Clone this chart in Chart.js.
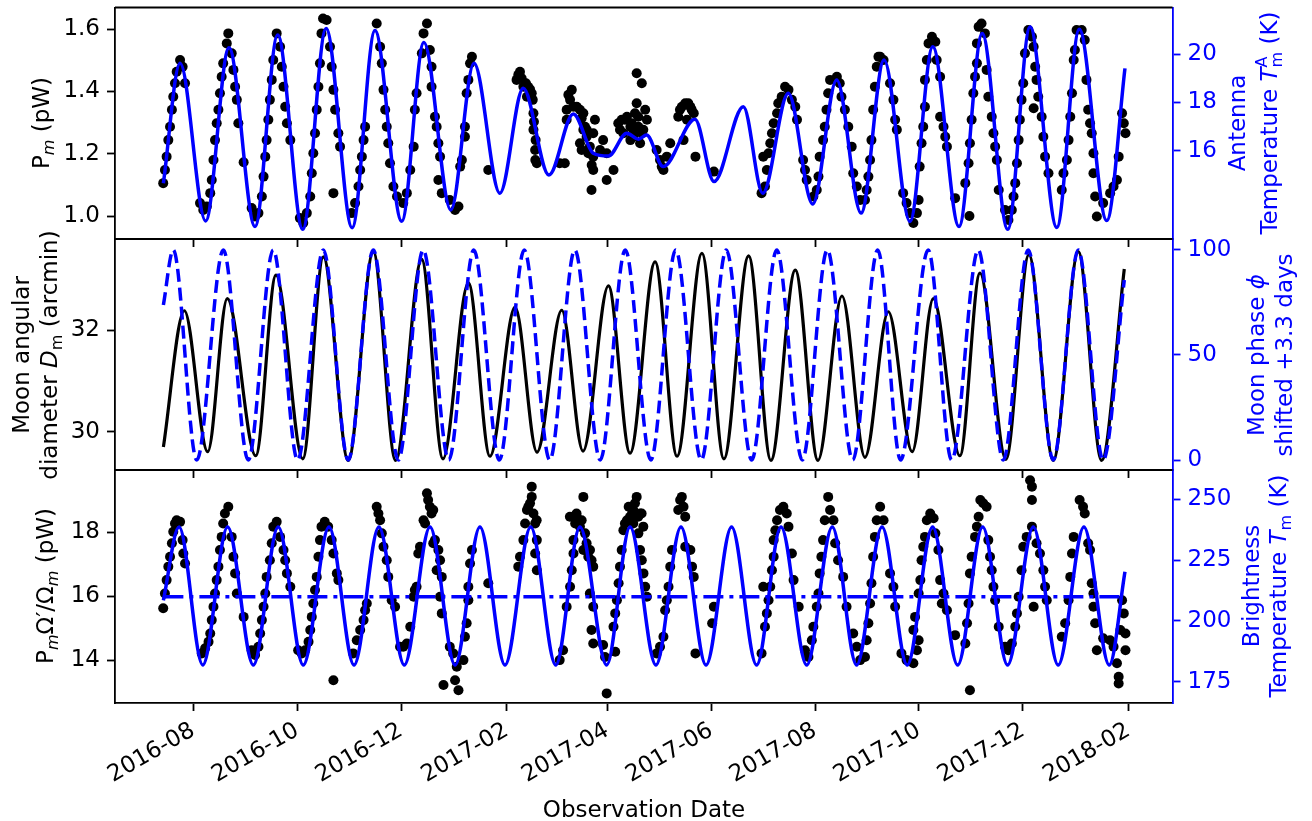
<!DOCTYPE html>
<html>
<head>
<meta charset="utf-8">
<script src="https://cdn.jsdelivr.net/npm/chart.js@4.4.0/dist/chart.umd.min.js"></script>
<style>
  body { margin: 0; background: #fff; }
  #wrap { position: relative; width: 1312px; height: 821px; }
  #wrap canvas { position: absolute; left: 0; top: 0; }
</style>
</head>
<body>
<div id="wrap">
  <canvas id="c1" width="1312" height="821"></canvas>
  <canvas id="c2" width="1312" height="821"></canvas>
  <canvas id="c3" width="1312" height="821"></canvas>
</div>
<script>
// x values are days since 2016-08-01
const tickDays = [0, 61, 122, 184, 243, 304, 365, 426, 487, 549];
const tickLabels = ["2016-08", "2016-10", "2016-12", "2017-02", "2017-04", "2017-06", "2017-08", "2017-10", "2017-12", "2018-02"];

// panel 1 : measured power P_m (pW)
const obsDay1 = [
  -17.6, -16.6, -15.6, -14.6, -13.6, -12.5, -11.7, -10.7, -9.7, -7.7, -6.2, -4.8,
  4.0, 5.9, 8.0, 10.0, 10.9, 11.9, 12.8, 13.8, 14.8, 15.7, 16.7, 17.6, 19.7, 20.6, 22.6, 23.6, 24.6, 25.6, 26.5, 29.6,
  34.3, 36.3, 38.3, 40.3, 41.3, 42.3, 43.1, 44.1, 45.0, 46.1, 47.0, 49.0, 51.0, 52.0, 53.0, 54.0, 55.0, 57.0,
  62.6, 64.6, 66.7, 68.7, 69.6, 70.5, 71.5, 72.5, 73.5, 74.4, 75.3, 76.2, 78.3, 80.3, 81.3, 82.3, 83.3, 85.2, 86.2, 82.3,
  93.0, 95.0, 97.0, 98.0, 99.0, 100.0, 100.9, 107.7, 109.7, 110.7, 111.7, 112.7, 113.6, 114.5, 115.5, 117.5, 119.6,
  123.3, 125.4, 127.4, 129.4, 130.1, 131.1, 134.2, 135.2, 137.2, 138.9, 139.9, 139.9, 141.9, 142.9, 143.9, 144.9, 143.9, 145.9,
  150.6, 153.7, 155.7, 156.7, 157.7, 159.5, 159.5, 160.5, 161.5, 162.5, 163.6, 173.2,
  189.8, 191.8, 193.8, 195.9, 196.6, 198.7, 199.7, 199.7, 200.7, 201.7, 215.1, 218.1,
  222.2, 221.2, 223.2, 219.2, 227.0, 229.0, 219.2, 230.0, 231.0, 227.0, 228.0, 235.8, 234.8, 232.8, 234.8, 234.8, 233.8, 240.6, 242.7, 246.7, 242.7,
  251.5, 254.6, 256.6, 258.3, 259.3, 260.3, 260.3, 263.3, 265.3, 266.3, 261.3, 263.3, 256.6, 262.3, 250.5, 252.5,
  272.0, 274.0, 275.0, 276.0, 278.0, 280.0, 284.7, 286.8, 288.8, 291.8, 293.8, 287.8, 294.8, 289.8, 305.6,
  333.6, 334.6, 335.6, 336.7, 337.7, 338.7, 339.7, 340.7, 342.7, 343.4, 345.4, 347.4, 349.4, 351.4, 353.4, 354.4, 358.0, 359.1, 360.1,
  364.0, 366.0, 367.0, 367.7, 369.7, 370.7, 371.7, 372.7, 373.8, 377.8, 379.5, 380.5, 382.5, 384.5, 386.5,
  387.4, 389.5, 391.5, 394.3, 395.3, 396.3, 397.3, 398.1, 399.1, 400.1, 401.2, 402.2, 403.2, 405.2, 409.0, 411.0, 412.0, 413.0,
  416.7, 418.7, 420.7, 422.7, 424.8, 425.8, 426.4, 427.5, 428.5, 429.5, 429.5, 430.6, 431.6, 433.6, 435.6, 436.4, 438.4, 438.4, 440.4, 441.4, 442.4,
  447.2, 455.6, 453.2, 455.1, 455.9, 456.9, 457.9, 458.9, 460.0, 460.0, 461.0, 462.7, 464.7, 465.7, 466.7, 468.7, 469.7, 470.7, 471.7, 472.8,
  476.5, 478.5, 480.5, 481.5, 482.5, 483.5, 484.5, 485.2, 486.2, 487.2, 488.2, 490.2, 492.3, 493.3, 494.2, 495.0, 496.0, 493.3, 498.0, 499.0, 500.0, 502.0,
  509.8, 510.8, 512.8, 513.8, 514.8, 515.8, 516.8, 517.5, 518.5, 521.5, 523.3, 524.3, 525.3, 526.4, 527.4, 528.4, 528.4, 529.4, 530.4,
  534.1, 538.2, 540.2, 542.2, 543.2, 545.2, 546.2, 547.2,
  190.8, 192.8, 195.3, 197.7, 199.3, 200.0, 201.0, 200.8, 220.2, 225.1, 228.0, 230.9, 229.0, 231.9, 233.9, 238.8,
  249.5, 253.4, 257.4, 261.2, 264.2, 258.3, 285.7, 290.6, 292.6
];
const obsP1 = [
  1.106, 1.148, 1.191, 1.244, 1.287, 1.341, 1.383, 1.426, 1.463, 1.501, 1.479, 1.426,
  1.042, 1.020, 1.031, 1.074, 1.116, 1.180, 1.244, 1.298, 1.341, 1.394, 1.447, 1.490, 1.554, 1.586, 1.522, 1.469, 1.415, 1.373, 1.298, 1.173,
  1.026, 0.999, 1.010, 1.063, 1.127, 1.191, 1.244, 1.309, 1.373, 1.437, 1.501, 1.586, 1.543, 1.479, 1.415, 1.351, 1.298, 1.244,
  0.994, 0.978, 1.010, 1.063, 1.138, 1.202, 1.266, 1.341, 1.415, 1.490, 1.586, 1.634, 1.629, 1.543, 1.479, 1.405, 1.341, 1.266, 1.223, 1.074,
  1.010, 1.042, 1.095, 1.148, 1.191, 1.244, 1.287, 1.618, 1.543, 1.490, 1.405, 1.341, 1.287, 1.234, 1.170, 1.095, 1.063,
  1.042, 1.074, 1.148, 1.223, 1.341, 1.394, 1.522, 1.586, 1.618, 1.533, 1.479, 1.415, 1.319, 1.287, 1.234, 1.191, 1.116, 1.074,
  1.052, 1.020, 1.031, 1.159, 1.180, 1.255, 1.287, 1.394, 1.437, 1.490, 1.511, 1.148,
  1.437, 1.463, 1.415, 1.383, 1.415, 1.394, 1.330, 1.277, 1.212, 1.170, 1.170, 1.170,
  1.405, 1.373, 1.351, 1.341, 1.341, 1.330, 1.309, 1.287, 1.277, 1.234, 1.212, 1.309, 1.266, 1.223, 1.191, 1.148, 1.084, 1.244, 1.202, 1.148, 1.116,
  1.309, 1.319, 1.287, 1.266, 1.330, 1.362, 1.458, 1.426, 1.341, 1.309, 1.287, 1.266, 1.244, 1.234, 1.277, 1.266,
  1.212, 1.180, 1.159, 1.148, 1.191, 1.234, 1.319, 1.351, 1.362, 1.351, 1.330, 1.244, 1.191, 1.309, 1.143,
  1.074, 1.191, 1.095, 1.148, 1.202, 1.234, 1.266, 1.298, 1.330, 1.362, 1.383, 1.415, 1.405, 1.373, 1.351, 1.309, 1.180, 1.148, 1.116,
  1.063, 1.084, 1.127, 1.191, 1.244, 1.287, 1.341, 1.394, 1.437, 1.447, 1.426, 1.383, 1.341, 1.287, 1.223,
  1.138, 1.095, 1.052, 1.052, 1.084, 1.127, 1.180, 1.244, 1.341, 1.415, 1.479, 1.511, 1.511, 1.501, 1.426, 1.373, 1.309, 1.277,
  1.074, 1.042, 1.010, 0.978, 1.010, 1.052, 1.159, 1.234, 1.287, 1.351, 1.437, 1.501, 1.554, 1.575, 1.559, 1.501, 1.447, 1.319, 1.287, 1.255, 1.223,
  1.058, 1.001, 1.106, 1.170, 1.234, 1.309, 1.394, 1.447, 1.490, 1.554, 1.607, 1.618, 1.586, 1.469, 1.383, 1.319, 1.266, 1.223, 1.180, 1.084,
  1.020, 0.988, 1.020, 1.063, 1.106, 1.170, 1.244, 1.309, 1.373, 1.426, 1.522, 1.597, 1.575, 1.543, 1.479, 1.437, 1.383, 1.346, 1.319, 1.255, 1.191, 1.138,
  1.084, 1.138, 1.180, 1.244, 1.319, 1.394, 1.501, 1.533, 1.597, 1.597, 1.565, 1.437, 1.341, 1.298, 1.266, 1.202, 1.138, 1.063, 0.999,
  1.042, 1.074, 1.095, 1.116, 1.191, 1.330, 1.298, 1.266,
  1.453, 1.442, 1.426, 1.407, 1.373, 1.303, 1.244, 1.180, 1.389, 1.351, 1.314, 1.255, 1.277, 1.202, 1.164, 1.212,
  1.298, 1.309, 1.298, 1.319, 1.277, 1.255, 1.341, 1.362, 1.341
];
// fitted curve, read at its turning points
const fitDay1 = [-17.5, -7.7, 7.3, 21.0, 36.3, 49.6, 64.3, 78.0, 93.3, 106.7, 122.4, 135.4, 151.2, 164.8, 180.0, 193.7, 208.8, 223.1,
  234.8, 243.7, 254.5, 261.3, 266.1, 275.9, 294.5, 305.7, 322.9, 334.3, 349.3, 363.6, 377.7, 392.0, 405.5, 420.7, 434.1, 449.5,
  463.1, 478.1, 491.2, 506.9, 520.1, 536.2, 546.9];
const fitP1 = [1.106, 1.490, 0.985, 1.540, 0.967, 1.581, 0.958, 1.602, 0.963, 1.595, 0.984, 1.557, 1.020, 1.490, 1.074, 1.410, 1.132, 1.328,
  1.202, 1.193, 1.266, 1.247, 1.260, 1.159, 1.311, 1.111, 1.351, 1.074, 1.394, 1.039, 1.437, 1.010, 1.501, 0.983, 1.543, 0.967,
  1.586, 0.958, 1.607, 0.964, 1.599, 0.986, 1.474];
const pTicks = [1.0, 1.2, 1.4, 1.6];
const antTempTicks = [16, 18, 20];

// panel 2 : moon angular diameter (arcmin) and moon phase (%)
const diamDay = [-17.5, -5.2, 8.5, 20.0, 36.7, 48.6, 64.3, 76.4, 91.0, 105.7, 118.8, 134.1, 146.6, 161.5, 174.2, 188.9, 201.8,
  216.3, 228.8, 243.7, 256.4, 271.1, 284.0, 298.6, 311.5, 326.0, 339.1, 353.4, 366.7, 380.8, 394.3, 408.0, 422.0, 434.4,
  450.0, 461.8, 477.0, 490.5, 504.8, 519.5, 533.2, 546.5];
const diamVal = [29.70, 32.38, 29.61, 32.62, 29.53, 33.08, 29.47, 33.44, 29.44, 33.54, 29.44, 33.39, 29.47, 32.93, 29.52, 32.45, 29.60,
  32.39, 29.62, 32.87, 29.58, 33.34, 29.52, 33.51, 29.47, 33.46, 29.44, 33.18, 29.44, 32.67, 29.50, 32.36, 29.61, 32.62,
  29.53, 33.12, 29.46, 33.48, 29.44, 33.54, 29.44, 33.20];
const phaseDay = [-17.5, -11.7, 2.1, 17.7, 32.3, 47.0, 61.3, 76.4, 91.0, 105.7, 120.4, 135.0, 150.0, 164.7, 179.7, 194.3, 209.3,
  224.0, 238.9, 253.6, 268.6, 283.2, 298.2, 312.9, 327.8, 342.5, 357.5, 372.2, 387.1, 401.8, 415.2, 431.4, 445.2, 460.8,
  475.5, 490.1, 504.8, 519.5, 534.1, 546.5];
const phaseVal = [73.8, 100, 0, 100, 0, 100, 0, 100, 0, 100, 0, 100, 0, 100, 0, 100, 0, 100, 0, 100, 0, 100, 0, 100, 0, 100, 0,
  100, 0, 100, 0, 100, 0, 100, 0, 100, 0, 100, 0, 85.7];
const diamTicks = [30, 32];
const phaseTicks = [0, 50, 100];

// panel 3 : power scaled to a fixed solid angle (pW)
const obsDay3 = [
  -17.6, -16.6, -15.6, -14.6, -13.6, -12.5, -11.7, -10.7, -9.7, -7.7, -6.2, -5.8, -4.8,
  5.0, 7.0, 9.0, 10.0, 10.9, 11.9, 12.8, 13.8, 14.8, 15.7, 16.7, 17.6, 18.6, 20.6, 22.6, 23.6, 24.6, 25.6, 29.6,
  34.3, 36.3, 38.3, 39.3, 40.3, 41.3, 42.3, 43.1, 45.0, 46.1, 47.0, 49.0, 51.0, 53.0, 54.0, 55.0, 57.0,
  61.6, 63.7, 65.7, 67.7, 68.7, 69.6, 70.5, 71.5, 72.5, 73.5, 74.4, 75.3, 77.2, 79.2, 81.3, 82.3, 84.3, 85.2, 82.3,
  93.9, 96.0, 98.0, 100.0, 100.9, 101.9, 107.7, 108.7, 109.7, 110.7, 111.7, 113.6, 114.5, 116.5, 118.5,
  121.4, 123.3, 125.4, 127.4, 129.4, 130.1, 131.1, 132.1, 133.1, 135.2, 136.1, 137.2, 137.9, 138.9, 139.9, 140.9, 140.9, 141.9, 142.9, 143.9, 144.9, 145.9, 144.9, 145.9,
  146.9, 150.6, 152.6, 154.7, 153.7, 155.7, 158.6, 159.5, 160.5, 161.5, 161.5, 162.5, 163.6, 173.2,
  190.8, 191.8, 193.8, 194.8, 195.9, 197.7, 198.7, 199.7, 200.7, 201.7, 200.7, 201.7,
  215.1, 217.1, 219.2, 221.2, 222.2, 223.2, 223.2, 224.2, 225.0, 229.0, 228.0, 230.0, 229.0, 231.9, 233.8, 234.8, 232.8, 234.8, 233.8, 234.8, 240.6, 241.7, 242.7, 247.7,
  246.7, 247.7, 248.7, 249.7, 250.5, 251.5, 252.5, 254.6, 255.6, 257.6, 260.3, 262.3, 258.3, 261.3, 262.3, 263.3, 264.3, 265.3, 266.3,
  272.0, 274.0, 276.0, 277.0, 278.0, 279.0, 280.0, 281.0, 284.7, 285.8, 286.8, 287.8, 288.8, 288.8, 291.8, 292.8, 293.8, 294.8, 305.6, 304.6,
  333.6, 334.6, 335.6, 336.7, 337.7, 338.7, 339.7, 340.7, 340.7, 341.7, 342.7, 344.4, 346.4, 348.4, 349.4, 351.4, 352.4, 355.4,
  359.1, 361.1, 363.1, 364.0, 366.0, 367.0, 367.7, 368.7, 369.7, 370.7, 372.7, 373.8, 375.8, 376.8, 378.5, 381.5, 383.5,
  387.4, 389.5, 391.5, 394.3, 395.3, 396.3, 397.3, 398.1, 399.1, 400.1, 401.2, 403.2, 405.2, 409.0, 411.0, 412.0,
  415.7, 418.7, 422.7, 424.8, 425.8, 422.7, 423.7, 425.8, 426.8, 427.5, 428.5, 429.5, 430.6, 432.6, 434.6, 435.6, 437.4, 438.4, 440.4, 439.4, 442.4,
  447.2, 453.2, 454.2, 455.9, 455.1, 455.9, 456.9, 458.9, 460.0, 461.0, 462.0, 463.7, 465.7, 466.7, 467.7, 468.7, 469.7, 470.7, 472.8,
  476.5, 478.5, 480.5, 482.5, 483.5, 484.5, 486.2, 487.2, 489.2, 491.2, 492.3, 492.3, 492.3, 493.3, 495.0, 497.0, 499.0, 500.0, 501.0,
  509.8, 511.8, 513.8, 514.8, 515.8, 516.8, 520.3, 522.3, 523.3, 525.3, 526.4, 527.4, 528.4, 528.4, 529.4, 530.4,
  534.1, 538.2, 540.2, 542.2, 543.2, 543.2, 544.2, 545.2, 546.2, 547.2, 547.2,
  253.4, 256.4, 258.3, 261.2, 263.2, 259.3, 264.2, 196.7, 198.7, 201.6, 221.1, 225.1, 227.0, 230.9, 232.9
];
const obsP3 = [
  15.63, 16.09, 16.51, 16.93, 17.24, 17.66, 18.02, 18.28, 18.38, 18.33, 17.76, 17.34, 17.03,
  14.22, 14.38, 14.58, 14.84, 15.26, 15.68, 16.09, 16.51, 16.93, 17.45, 17.86, 18.28, 18.59, 18.80, 17.86, 17.24, 16.72, 16.09, 15.36,
  14.32, 14.17, 14.43, 14.84, 15.26, 15.68, 16.09, 16.61, 17.13, 17.66, 18.18, 18.33, 17.86, 17.45, 17.13, 16.72, 16.30,
  14.32, 14.22, 14.32, 14.58, 14.95, 15.36, 15.78, 16.20, 16.61, 17.24, 17.76, 18.18, 18.33, 18.18, 17.76, 17.34, 16.72, 16.51, 13.38,
  14.22, 14.63, 14.95, 15.26, 15.57, 15.78, 18.80, 18.59, 18.38, 17.97, 17.55, 17.13, 16.61, 15.88, 15.68,
  14.43, 14.43, 14.53, 15.05, 15.99, 16.20, 16.30, 17.34, 17.55, 18.38, 18.28, 19.22, 19.01, 18.80, 18.59, 18.70, 17.66, 17.76, 16.82, 17.45, 17.13, 16.61, 15.99, 15.47,
  13.23, 14.43, 14.22, 13.80, 13.38, 13.07, 14.01, 14.74, 15.16, 15.88, 16.30, 17.03, 17.45, 16.41,
  16.93, 17.24, 17.76, 18.28, 18.70, 18.91, 19.43, 18.59, 18.28, 17.76, 17.34, 16.82,
  14.01, 14.32, 15.68, 16.30, 16.82, 17.34, 17.76, 18.28, 18.59, 19.11, 18.38, 17.97, 17.45, 17.24, 17.13, 16.93, 16.09, 15.68, 14.95, 14.53, 14.48, 14.11, 12.97, 14.27,
  15.05, 15.47, 15.88, 16.41, 16.93, 17.45, 18.07, 18.38, 18.80, 18.59, 19.11, 18.59, 18.28, 17.97, 17.45, 17.13, 16.72, 16.30, 15.99,
  14.22, 14.43, 14.74, 15.57, 15.88, 16.30, 16.93, 17.45, 18.70, 19.01, 19.11, 18.80, 18.49, 17.55, 17.45, 16.93, 16.61, 14.22, 15.68, 15.16,
  14.22, 16.30, 15.05, 15.47, 15.88, 16.30, 16.82, 17.24, 17.76, 18.07, 18.38, 18.70, 18.80, 18.59, 18.18, 17.34, 16.51, 15.68,
  14.32, 14.11, 14.63, 15.05, 15.68, 16.09, 16.72, 17.24, 17.76, 18.38, 19.11, 18.70, 18.38, 17.66, 17.13, 16.61, 15.68,
  14.84, 14.43, 14.01, 14.11, 14.63, 15.16, 15.78, 16.41, 17.24, 17.86, 18.38, 18.80, 18.38, 16.72, 16.30, 15.68,
  14.22, 14.01, 13.91, 14.32, 14.63, 14.95, 15.36, 16.09, 16.51, 17.13, 17.55, 17.86, 18.38, 18.59, 18.44, 17.97, 17.45, 16.51, 16.09, 15.78, 15.57,
  14.79, 14.53, 15.16, 13.07, 15.78, 16.72, 17.24, 17.86, 18.18, 18.49, 19.01, 18.91, 18.80, 17.76, 17.24, 16.82, 16.30, 15.88, 15.05,
  14.43, 14.32, 14.53, 15.05, 15.47, 15.99, 16.82, 17.55, 17.86, 19.63, 19.43, 19.01, 18.18, 15.68, 17.66, 17.34, 16.82, 16.30, 15.88,
  14.74, 15.16, 15.88, 16.61, 17.34, 17.86, 19.01, 18.80, 18.59, 17.66, 17.45, 16.41, 16.09, 15.68, 15.16, 14.32,
  14.69, 14.63, 14.43, 13.91, 13.49, 13.28, 14.95, 15.88, 15.47, 14.84, 14.32,
  18.28, 18.49, 18.70, 18.49, 18.59, 18.91, 18.18, 18.80, 19.11, 18.38, 18.49, 18.49, 18.18, 17.66, 17.45
];
const fitDay3 = [-17.5, -8.3, 5.6, 20.2, 35.3, 49.9, 64.6, 79.7, 94.4, 109.0, 123.9, 139.0, 153.7, 168.3, 183.0, 198.1, 212.8,
  227.0, 242.7, 256.4, 271.6, 286.3, 301.0, 316.0, 330.7, 345.0, 360.1, 375.1, 389.4, 404.3, 419.1, 434.0, 448.7,
  463.4, 478.0, 493.1, 507.7, 522.8, 537.7, 546.9];
const fitP3 = [15.88, 18.17, 13.86, 18.17, 13.86, 18.17, 13.86, 18.17, 13.86, 18.17, 13.86, 18.17, 13.86, 18.17, 13.86, 18.17, 13.86,
  18.17, 13.86, 18.17, 13.86, 18.17, 13.86, 18.17, 13.86, 18.17, 13.86, 18.17, 13.86, 18.17, 13.86, 18.17, 13.86,
  18.17, 13.86, 18.17, 13.86, 18.17, 13.86, 16.77];
const meanDay = [-17.5, 546.5];
const meanP3 = [15.99, 15.99];
const normTicks = [14, 16, 18];
const brightTempTicks = [175, 200, 225, 250];

const FONT = "DejaVu Sans";
const BLUE = "#0000ff";
const SIZE = 23;

function pts(xs, ys) {
  return xs.map((x, i) => ({ x: x, y: ys[i] }));
}

// one line of axis title text with italics / sub- and superscripts
function drawRich(ctx, cx, cy, parts, color, angle) {
  const fontOf = (p) => (p.it ? "italic " : "") + (p.s ? SIZE * 0.7 : SIZE) + "px '" + FONT + "'";
  let total = 0;
  const widths = parts.map((p) => {
    ctx.font = fontOf(p);
    const w = p.stack ? 0 : ctx.measureText(p.t).width;
    total += w;
    return w;
  });
  ctx.save();
  ctx.translate(cx, cy);
  ctx.rotate(angle);
  ctx.fillStyle = color;
  ctx.textAlign = "left";
  ctx.textBaseline = "alphabetic";
  let x = -total / 2;
  parts.forEach((p, i) => {
    ctx.font = fontOf(p);
    const dy = p.s === "sub" ? SIZE * 0.22 : p.s === "sup" ? -SIZE * 0.42 : 0;
    ctx.fillText(p.t, x, SIZE * 0.33 + dy);
    x += widths[i];
  });
  ctx.restore();
}

function framePlugin(titles) {
  return {
    id: "frame",
    afterDraw(chart) {
      const ctx = chart.ctx;
      const a = chart.chartArea;
      ctx.save();
      ctx.strokeStyle = "#000";
      ctx.lineWidth = 1.8;
      ctx.beginPath();
      ctx.moveTo(a.left, a.top);
      ctx.lineTo(a.right, a.top);
      ctx.stroke();
      ctx.restore();
      titles.forEach((t) => drawRich(ctx, t.x, t.y, t.parts, t.color, t.angle === undefined ? -Math.PI / 2 : t.angle));
    },
  };
}

function xAxis(height, showLabels) {
  return {
    type: "linear",
    min: -45.9,
    max: 574.8,
    afterBuildTicks: (s) => { s.ticks = tickDays.map((v) => ({ value: v })); },
    afterFit: (s) => { s.height = height; s.paddingLeft = 0; s.paddingRight = 0; },
    ticks: {
      display: showLabels,
      autoSkip: false,
      minRotation: 30,
      maxRotation: 30,
      padding: 6,
      color: "#000",
      font: { family: FONT, size: SIZE },
      callback: (v, i) => tickLabels[i],
    },
    grid: { drawOnChartArea: false, drawTicks: true, tickLength: 8, tickWidth: 1.8, tickColor: "#000" },
    border: { display: true, color: "#000", width: 1.8 },
  };
}

function yAxis(pos, min, max, ticks, fmt, color) {
  return {
    type: "linear",
    position: pos,
    min: min,
    max: max,
    afterBuildTicks: (s) => { s.ticks = ticks.map((v) => ({ value: v })); },
    afterFit: (s) => {
      s.width = pos === "left" ? 115 : 139.5;
      s.paddingTop = 0;
      s.paddingBottom = 0;
    },
    ticks: { color: color, padding: 7, font: { family: FONT, size: SIZE }, callback: fmt },
    grid: { drawOnChartArea: false, drawTicks: true, tickLength: 8, tickWidth: 1.8, tickColor: color },
    border: { display: true, color: color, width: 1.8 },
  };
}

function makeChart(id, top, xHeight, showX, datasets, yLeft, yRight, titles) {
  return new Chart(document.getElementById(id), {
    type: "scatter",
    data: { datasets: datasets },
    options: {
      responsive: false,
      animation: false,
      devicePixelRatio: 1,
      events: [],
      layout: { padding: { top: top, left: 0, right: 0, bottom: 0 } },
      plugins: { legend: { display: false }, tooltip: { enabled: false } },
      scales: { x: xAxis(xHeight, showX), y: yLeft, y2: yRight },
    },
    plugins: [framePlugin(titles)],
  });
}

const dotStyle = { pointRadius: 5, pointBackgroundColor: "#000", pointBorderWidth: 0, showLine: false };
const curveStyle = { type: "line", pointRadius: 0, cubicInterpolationMode: "monotone", fill: false };

// panel 1
makeChart("c1", 7.5, 582, false,
  [
    Object.assign({ data: pts(fitDay1, fitP1), borderColor: BLUE, borderWidth: 3.5, yAxisID: "y", order: 0 }, curveStyle),
    Object.assign({ data: pts(obsDay1, obsP1), yAxisID: "y", order: 1 }, dotStyle),
  ],
  yAxis("left", 0.927, 1.669, pTicks, (v) => v.toFixed(1), "#000"),
  yAxis("right", 12.34, 21.94, antTempTicks, (v) => String(v), BLUE),
  [
    { x: 41, y: 123, color: "#000", parts: [{ t: "P" }, { t: "m", it: true, s: "sub" }, { t: " (pW)" }] },
    { x: 1237, y: 123, color: BLUE, parts: [{ t: "Antenna" }] },
    { x: 1269, y: 123, color: BLUE, parts: [{ t: "Temperature " }, { t: "T", it: true }, { t: "A", s: "sup", stack: true }, { t: "m", s: "sub" }, { t: " (K)" }] },
  ]
);

// panel 2
makeChart("c2", 239, 351, false,
  [
    Object.assign({ data: pts(phaseDay, phaseVal), borderColor: BLUE, borderWidth: 3.5, borderDash: [13, 6], yAxisID: "y2", order: 0 }, curveStyle),
    Object.assign({ data: pts(diamDay, diamVal), borderColor: "#000", borderWidth: 3.2, yAxisID: "y", order: 1 }, curveStyle),
  ],
  yAxis("left", 29.25, 33.79, diamTicks, (v) => String(v), "#000"),
  yAxis("right", -4.76, 105.2, phaseTicks, (v) => String(v), BLUE),
  [
    { x: 21, y: 355, color: "#000", parts: [{ t: "Moon angular" }] },
    { x: 49, y: 355, color: "#000", parts: [{ t: "diameter " }, { t: "D", it: true }, { t: "m", s: "sub" }, { t: " (arcmin)" }] },
    { x: 1256, y: 355, color: BLUE, parts: [{ t: "Moon phase " }, { t: "ϕ", it: true }] },
    { x: 1284, y: 355, color: BLUE, parts: [{ t: "shifted +3.3 days" }] },
  ]
);

// panel 3
makeChart("c3", 470, 118, true,
  [
    Object.assign({ data: pts(fitDay3, fitP3), borderColor: BLUE, borderWidth: 3.5, yAxisID: "y", order: 0 }, curveStyle),
    Object.assign({ data: pts(meanDay, meanP3), borderColor: BLUE, borderWidth: 3.5, borderDash: [20, 6, 4, 6], yAxisID: "y", order: 1 }, curveStyle),
    Object.assign({ data: pts(obsDay3, obsP3), yAxisID: "y", order: 2 }, dotStyle),
  ],
  yAxis("left", 12.67, 19.95, normTicks, (v) => String(v), "#000"),
  yAxis("right", 166.2, 262.05, brightTempTicks, (v) => String(v), BLUE),
  [
    { x: 45, y: 586, color: "#000", parts: [{ t: "P" }, { t: "m", it: true, s: "sub" }, { t: "Ω′/Ω" }, { t: "m", it: true, s: "sub" }, { t: " (pW)" }] },
    { x: 1251, y: 586, color: BLUE, parts: [{ t: "Brightness" }] },
    { x: 1278, y: 586, color: BLUE, parts: [{ t: "Temperature " }, { t: "T", it: true }, { t: "m", s: "sub" }, { t: " (K)" }] },
    { x: 644, y: 809, color: "#000", angle: 0, parts: [{ t: "Observation Date" }] },
  ]
);
</script>
</body>
</html>
